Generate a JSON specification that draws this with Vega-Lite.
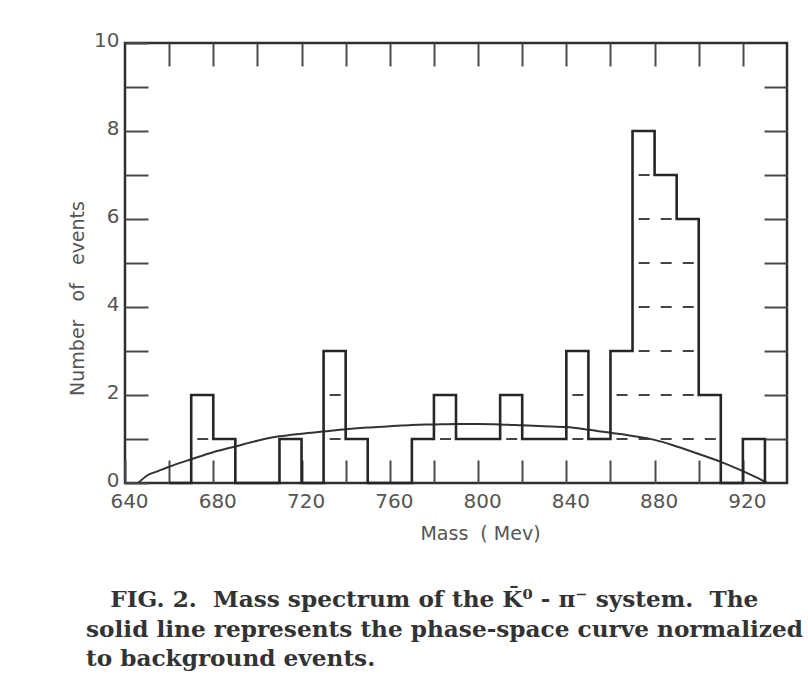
{
  "$schema": "https://vega.github.io/schema/vega-lite/v6.json",
  "width": 662,
  "height": 440,
  "autosize": {"type": "none"},
  "padding": {"left": 125, "top": 43, "right": 21, "bottom": 213},
  "background": "white",
  "config": {
    "view": {"stroke": "#2e2e2e", "strokeWidth": 2.5},
    "axis": {
      "domain": false,
      "grid": false,
      "tickSize": -23,
      "tickWidth": 2,
      "tickColor": "#4a4a4a",
      "labelFont": "DejaVu Sans",
      "labelFontSize": 20,
      "labelColor": "#555555",
      "titleFont": "DejaVu Sans",
      "titleFontSize": 19,
      "titleFontWeight": "normal",
      "titleColor": "#555555"
    }
  },
  "datasets": {
    "bins": [
      {"mass": 660, "events": 0},
      {"mass": 670, "events": 2},
      {"mass": 680, "events": 1},
      {"mass": 690, "events": 0},
      {"mass": 700, "events": 0},
      {"mass": 710, "events": 1},
      {"mass": 720, "events": 0},
      {"mass": 730, "events": 3},
      {"mass": 740, "events": 1},
      {"mass": 750, "events": 0},
      {"mass": 760, "events": 0},
      {"mass": 770, "events": 1},
      {"mass": 780, "events": 2},
      {"mass": 790, "events": 1},
      {"mass": 800, "events": 1},
      {"mass": 810, "events": 2},
      {"mass": 820, "events": 1},
      {"mass": 830, "events": 1},
      {"mass": 840, "events": 3},
      {"mass": 850, "events": 1},
      {"mass": 860, "events": 3},
      {"mass": 870, "events": 8},
      {"mass": 880, "events": 7},
      {"mass": 890, "events": 6},
      {"mass": 900, "events": 2},
      {"mass": 910, "events": 0},
      {"mass": 920, "events": 1},
      {"mass": 930, "events": 0}
    ],
    "stack": [
      {"lo": 670, "hi": 680, "level": 1},
      {"lo": 730, "hi": 740, "level": 1},
      {"lo": 730, "hi": 740, "level": 2},
      {"lo": 780, "hi": 790, "level": 1},
      {"lo": 810, "hi": 820, "level": 1},
      {"lo": 840, "hi": 850, "level": 1},
      {"lo": 840, "hi": 850, "level": 2},
      {"lo": 860, "hi": 910, "level": 1},
      {"lo": 860, "hi": 900, "level": 2},
      {"lo": 870, "hi": 900, "level": 3},
      {"lo": 870, "hi": 900, "level": 4},
      {"lo": 870, "hi": 900, "level": 5},
      {"lo": 870, "hi": 890, "level": 6},
      {"lo": 870, "hi": 880, "level": 7}
    ],
    "phase": [
      {"mass": 646, "events": 0},
      {"mass": 650, "events": 0.17},
      {"mass": 655, "events": 0.27},
      {"mass": 660, "events": 0.37},
      {"mass": 670, "events": 0.54},
      {"mass": 680, "events": 0.7},
      {"mass": 690, "events": 0.83},
      {"mass": 700, "events": 0.96},
      {"mass": 710, "events": 1.06},
      {"mass": 720, "events": 1.12},
      {"mass": 730, "events": 1.17},
      {"mass": 740, "events": 1.22},
      {"mass": 750, "events": 1.26},
      {"mass": 760, "events": 1.29},
      {"mass": 770, "events": 1.32},
      {"mass": 780, "events": 1.33},
      {"mass": 790, "events": 1.34},
      {"mass": 800, "events": 1.34},
      {"mass": 810, "events": 1.33},
      {"mass": 820, "events": 1.31},
      {"mass": 830, "events": 1.29},
      {"mass": 840, "events": 1.27},
      {"mass": 850, "events": 1.21},
      {"mass": 860, "events": 1.14},
      {"mass": 870, "events": 1.07},
      {"mass": 880, "events": 0.98},
      {"mass": 890, "events": 0.83},
      {"mass": 900, "events": 0.66},
      {"mass": 910, "events": 0.48},
      {"mass": 920, "events": 0.27},
      {"mass": 928, "events": 0.08},
      {"mass": 931, "events": 0}
    ]
  },
  "title": {
    "text": [
      "\u200b\u00a0\u00a0\u00a0FIG. 2.\u00a0\u00a0Mass spectrum of the K\u0304\u2070 - \u03c0\u207b system.\u00a0\u00a0The",
      "solid line represents the phase-space curve normalized",
      "to background events."
    ],
    "orient": "bottom",
    "anchor": "start",
    "frame": "group",
    "dx": -39,
    "offset": 46,
    "font": "DejaVu Serif",
    "fontSize": 23.2,
    "fontWeight": "bold",
    "lineHeight": 29.5,
    "color": "#333333"
  },
  "layer": [
    {
      "data": {"name": "stack"},
      "mark": {"type": "rule", "strokeDash": [11, 11.07], "strokeDashOffset": 16, "strokeWidth": 2, "color": "#444444"},
      "encoding": {
        "x": {
          "field": "lo", "type": "quantitative",
          "scale": {"domain": [640, 940], "nice": false, "zero": false},
          "axis": {
            "orient": "bottom",
            "values": [640, 660, 680, 720, 740, 760, 780, 800, 820, 840, 860, 880, 900, 920],
            "labelExpr": "datum.value % 40 === 0 ? datum.label : ''",
            "labelFlush": false,
            "labelOverlap": false,
            "labelPadding": 31,
            "labelOffset": 4,
            "title": "Mass\u00a0\u00a0(\u00a0Mev)",
            "titleX": 355,
            "titleY": 50,
            "titleBaseline": "middle"
          }
        },
        "x2": {"field": "hi"},
        "y": {
          "field": "level", "type": "quantitative",
          "scale": {"domain": [0, 10], "nice": false},
          "axis": {
            "orient": "left",
            "values": [0, 1, 2, 3, 4, 5, 6, 7, 8, 9, 10],
            "labelExpr": "datum.value % 2 === 0 ? datum.label : ''",
            "labelFlush": false,
            "labelPadding": 29,
            "labelOffset": -3,
            "title": "Number\u00a0\u00a0\u00a0of\u00a0\u00a0\u00a0events",
            "titleX": -48,
            "titleY": 255,
            "titleAngle": 270,
            "titleBaseline": "middle"
          }
        }
      }
    },
    {
      "data": {"name": "phase"},
      "mark": {"type": "line", "interpolate": "monotone", "strokeWidth": 2, "color": "#333333"},
      "encoding": {
        "x": {
          "field": "mass", "type": "quantitative",
          "scale": {"domain": [640, 940], "nice": false, "zero": false},
          "axis": {
            "orient": "top",
            "values": [660, 680, 700, 720, 740, 760, 780, 800, 820, 840, 860, 880, 900, 920],
            "labels": false,
            "title": null
          }
        },
        "y": {
          "field": "events", "type": "quantitative",
          "scale": {"domain": [0, 10], "nice": false},
          "axis": {
            "orient": "right",
            "values": [1, 2, 3, 4, 5, 6, 7, 8, 9],
            "labels": false,
            "title": null
          }
        }
      }
    },
    {
      "data": {"name": "bins"},
      "mark": {"type": "line", "interpolate": "step-after", "strokeWidth": 2.6, "color": "#262626", "strokeJoin": "miter"},
      "encoding": {
        "x": {"field": "mass", "type": "quantitative", "scale": {"domain": [640, 940], "nice": false, "zero": false}, "axis": null},
        "y": {"field": "events", "type": "quantitative", "scale": {"domain": [0, 10], "nice": false}, "axis": null}
      }
    }
  ],
  "resolve": {"axis": {"x": "independent", "y": "independent"}}
}
